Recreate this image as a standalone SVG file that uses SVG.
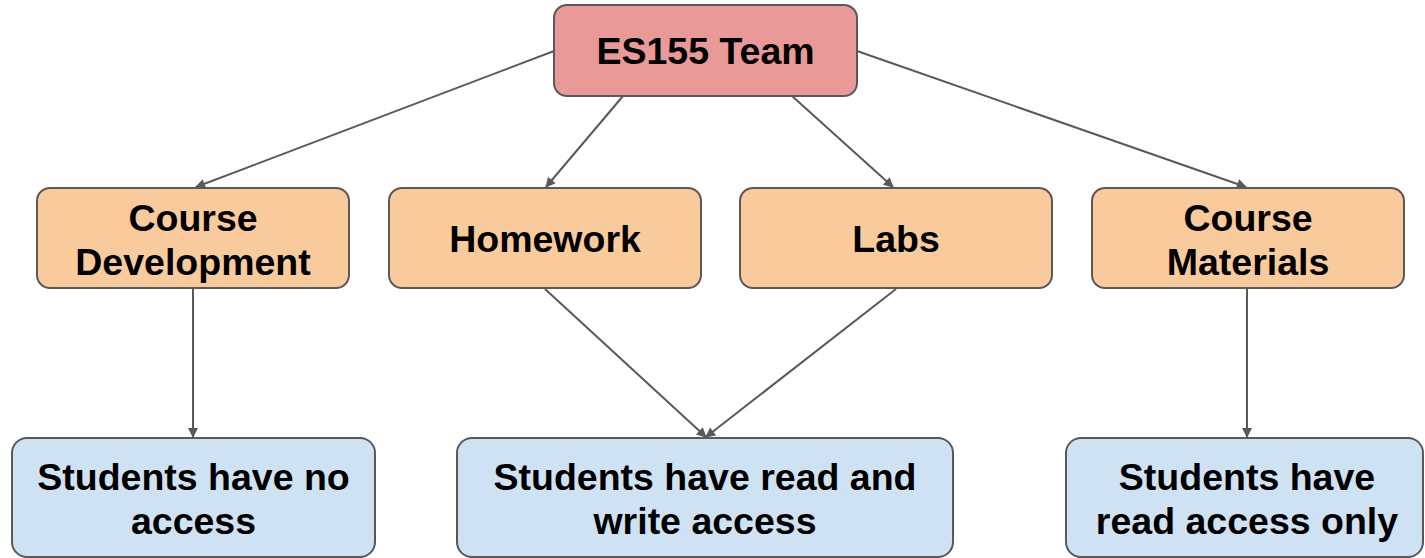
<svg xmlns="http://www.w3.org/2000/svg" width="1425" height="558" viewBox="0 0 1425 558">
<style>
.box{stroke:#595959;stroke-width:2}
.top{fill:#ea9999}
.mid{fill:#f9cb9c}
.bot{fill:#cfe2f3}
.t{font-family:"Liberation Sans",Arial,sans-serif;font-weight:bold;font-size:37.5px;fill:#000;text-anchor:middle}
.c{stroke:#595959;stroke-width:2;fill:none;marker-end:url(#ah)}
</style>
<defs>
<marker id="ah" viewBox="0 0 10 10" refX="9" refY="5" markerWidth="11" markerHeight="10" markerUnits="userSpaceOnUse" orient="auto">
<path d="M0,0 L10,5 L0,10 z" fill="#595959"/>
</marker>
</defs>
<rect width="1425" height="558" fill="#fff"/>
<g id="connectors">
<line class="c" x1="554" y1="51" x2="196" y2="187"/>
<line class="c" x1="623" y1="96" x2="546" y2="187"/>
<line class="c" x1="792" y1="96" x2="893" y2="187"/>
<line class="c" x1="857" y1="51" x2="1246" y2="187"/>
<line class="c" x1="193" y1="289" x2="193" y2="437"/>
<line class="c" x1="545" y1="289" x2="706" y2="437"/>
<line class="c" x1="896" y1="289" x2="706" y2="437"/>
<line class="c" x1="1247" y1="289" x2="1247" y2="437"/>
</g>
<g id="es155">
<rect class="box top" x="554" y="5" width="303" height="91" rx="13"/>
<text class="t" x="705.5" y="64">ES155 Team</text>
</g>
<g id="coursedev">
<rect class="box mid" x="37" y="188" width="312" height="100" rx="13"/>
<text class="t" x="193" y="231">Course</text>
<text class="t" x="193" y="275">Development</text>
</g>
<g id="homework">
<rect class="box mid" x="389" y="188" width="312" height="100" rx="13"/>
<text class="t" x="545" y="252">Homework</text>
</g>
<g id="labs">
<rect class="box mid" x="740" y="188" width="312" height="100" rx="13"/>
<text class="t" x="896" y="252">Labs</text>
</g>
<g id="coursemat">
<rect class="box mid" x="1092" y="188" width="312" height="100" rx="13"/>
<text class="t" x="1248" y="231">Course</text>
<text class="t" x="1248" y="275">Materials</text>
</g>
<g id="noaccess">
<rect class="box bot" x="12" y="438" width="363" height="119" rx="15"/>
<text class="t" x="193.5" y="490">Students have no</text>
<text class="t" x="193.5" y="534">access</text>
</g>
<g id="readwrite">
<rect class="box bot" x="457" y="438" width="496" height="119" rx="15"/>
<text class="t" x="705" y="490">Students have read and</text>
<text class="t" x="705" y="534">write access</text>
</g>
<g id="readonly">
<rect class="box bot" x="1066" y="438" width="357" height="119" rx="15"/>
<text class="t" x="1247" y="490">Students have</text>
<text class="t" x="1247" y="534">read access only</text>
</g>
</svg>
